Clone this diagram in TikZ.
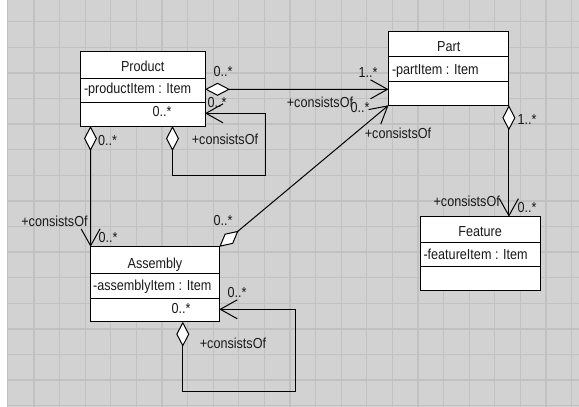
\documentclass[tikz,border=0pt]{standalone}
\usepackage{fontspec}
\setmainfont{Liberation Sans}[FakeStretch=0.87]
\usetikzlibrary{arrows.meta,calc}
\definecolor{bggray}{RGB}{210,210,210}
\definecolor{gridgray}{RGB}{193,193,193}
\definecolor{inkcol}{RGB}{25,25,25}
\begin{document}
\begin{tikzpicture}[x=1pt,y=-1pt,
  every node/.style={font=\fontsize{14.5}{17}\selectfont, inner sep=0pt, outer sep=0pt, text=inkcol},
  cls/.style={draw=black, line width=1pt, fill=white, rectangle},
  ttl/.style={anchor=base},
  attr/.style={anchor=base west},
  lbl/.style={text height=10.4pt, text depth=0pt, anchor=center},
  aggr/.style={draw=black, line width=1pt, {Diamond[length=25pt,width=13pt,fill=white]}-{Straight Barb[length=17pt,width=19pt]}},
  sepline/.style={draw=black, line width=1pt},
  gridline/.style={draw=gridgray, line width=1.3pt}
]
\useasboundingbox (0,0) rectangle (579,407);
\fill[white] (0,0) rectangle (579,407);
\fill[bggray] (7,0) rectangle (579,407);
\foreach \k in {0,...,21} \draw[gridline] ({34+25.6*\k},0) -- ({34+25.6*\k},407);
\foreach \k in {0,...,15} \draw[gridline] (7,{21.7+25.6*\k}) -- (579,{21.7+25.6*\k});
\draw[gridline] (7.6,0) -- (7.6,407);

% classes
\node[cls, minimum width=124.5pt, minimum height=74.3pt] (product) at (142.75,88.85) {};
\draw[sepline] ($(product.north west)+(0,26.6)$) -- ($(product.north east)+(0,26.6)$);
\draw[sepline] ($(product.north west)+(0,51)$) -- ($(product.north east)+(0,51)$);
\node[ttl] (productT) at ($(product.north)+(0,19.3)$) {Product};
\node[attr] (productA) at ($(product.north west)+(3.5,42)$) {-productItem : Item};
\node[lbl] (productM) at (162,111) {0..*};

\node[cls, minimum width=120.4pt, minimum height=74.3pt] (part) at (448.7,68.15) {};
\draw[sepline] ($(part.north west)+(0,25.7)$) -- ($(part.north east)+(0,25.7)$);
\draw[sepline] ($(part.north west)+(0,50)$) -- ($(part.north east)+(0,50)$);
\node[ttl] (partT) at ($(part.north)+(0,20)$) {Part};
\node[attr] (partA) at ($(part.north west)+(3.5,43)$) {-partItem : Item};

\node[cls, minimum width=120.2pt, minimum height=74pt] (feature) at (480.1,253.7) {};
\draw[sepline] ($(feature.north west)+(0,25.6)$) -- ($(feature.north east)+(0,25.6)$);
\draw[sepline] ($(feature.north west)+(0,50)$) -- ($(feature.north east)+(0,50)$);
\node[ttl] (featureT) at ($(feature.north)+(0,19.5)$) {Feature};
\node[attr] (featureA) at ($(feature.north west)+(3.5,42.6)$) {-featureItem : Item};

\node[cls, minimum width=128.7pt, minimum height=74.9pt] (assembly) at (154.95,284.25) {};
\draw[sepline] ($(assembly.north west)+(0,26.7)$) -- ($(assembly.north east)+(0,26.7)$);
\draw[sepline] ($(assembly.north west)+(0,51.2)$) -- ($(assembly.north east)+(0,51.2)$);
\node[ttl] (assemblyT) at ($(assembly.north)+(0,21.5)$) {Assembly};
\node[attr] (assemblyA) at ($(assembly.north west)+(2.5,43.2)$) {-assemblyItem : Item};
\node[lbl] (assemblyM) at (181,308) {0..*};

% connectors
\draw[aggr] ($(product.north east)+(0,37.6)$) -- ($(part.north west)+(0,58.3)$);
\draw[aggr] ($(product.south east)+(-32.5,0)$) -- ++(0,49) -| ($(product.north east)+(60,61.6)$) -- ($(product.north east)+(0,61.6)$);
\draw[aggr] ($(product.south west)+(10,0)$) -- (assembly.north west);
\draw[aggr] (assembly.north east) -- (part.south west);
\draw[aggr] ($(assembly.south east)+(-36.5,0)$) -- ++(0,69.3) -| ($(assembly.north east)+(76,62.5)$) -- ($(assembly.north east)+(0,62.5)$);
\draw[aggr] (part.south east) -- (part.south east |- feature.north);

% labels
\node[lbl] (l1) at (223,71) {0..*};
\node[lbl] (l2) at (368,72) {1..*};
\node[lbl] (l3) at (320,102) {+consistsOf};
\node[lbl] (l4) at (360,107) {0..*};
\node[lbl] (l5) at (398,133) {+consistsOf};
\node[lbl] (l6) at (217,102) {0..*};
\node[lbl] (l7) at (225,139.5) {+consistsOf};
\node[lbl] (l8) at (107.5,140) {0..*};
\node[lbl] (l9) at (54.5,221) {+consistsOf};
\node[lbl] (l10) at (108,237) {0..*};
\node[lbl] (l11) at (223,220) {0..*};
\node[lbl] (l12) at (237,292) {0..*};
\node[lbl] (l13) at (233,343) {+consistsOf};
\node[lbl] (l14) at (527,119) {1..*};
\node[lbl] (l15) at (466.7,201) {+consistsOf};
\node[lbl] (l16) at (527,207) {0..*};
\end{tikzpicture}
\end{document}
